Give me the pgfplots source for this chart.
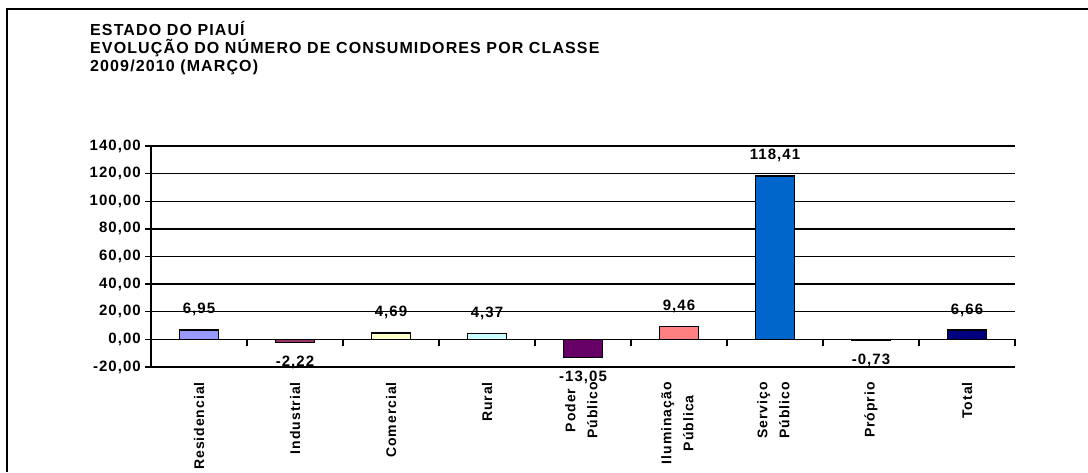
\documentclass[border=0pt]{standalone}
\usepackage{pgfplots}
\pgfplotsset{compat=1.18}
\usepackage{fontspec}
\setmainfont{Liberation Sans}[LetterSpace=7]
\definecolor{cRes}{HTML}{9999FF}
\definecolor{cInd}{HTML}{993366}
\definecolor{cCom}{HTML}{FFFFCC}
\definecolor{cRur}{HTML}{CCFFFF}
\definecolor{cPod}{HTML}{660066}
\definecolor{cIlu}{HTML}{FF8080}
\definecolor{cSer}{HTML}{0066CC}
\definecolor{cPro}{HTML}{CCCCFF}
\definecolor{cTot}{HTML}{000080}
\newcommand{\two}[2]{\begin{tabular}{@{}c@{}}#1\\[5pt]#2\end{tabular}}
\pgfplotsset{
  posl/.style={nodes near coords, every node near coord/.append style={anchor=south, yshift=13pt}},
  negl/.style={nodes near coords, every node near coord/.append style={anchor=north, yshift=-12.5pt}},
}
\begin{document}
\begin{tikzpicture}[x=1pt,y=1pt]
\useasboundingbox (0,0) rectangle (1088,472);
\fill[white] (0,0) rectangle (1088,472);
\draw[line width=2pt] (7,0) -- (7,463) -- (1088,463);
\node[anchor=north west, align=left, inner sep=0pt, font=\bfseries\fontsize{16}{18}\selectfont] at (90,450.5)
  {ESTADO DO PIAUÍ\\EVOLUÇÃO DO NÚMERO DE CONSUMIDORES POR CLASSE\\2009/2010 (MARÇO)};
\begin{axis}[
  at={(151pt,105pt)}, anchor=south west,
  width=864pt, height=221pt, scale only axis,
  xmin=-0.5, xmax=8.5, ymin=-20, ymax=140,
  ytick={-20,0,20,40,60,80,100,120,140},
  axis y line*=left, axis x line*=bottom,
  x axis line style={draw=none},
  y axis line style={line width=1.5pt},
  ymajorgrids, grid style={black, line width=1.3pt},
  ytick style={black, line width=1.3pt},
  tick align=outside, major tick length=6pt,
  xtick style={draw=none},
  xtick={0,...,8},
  xticklabels={Residencial, Industrial, Comercial, Rural, {\two{Poder}{Público}}, {\two{Iluminação}{Pública}}, {\two{Serviço}{Público}}, Próprio, Total},
  xticklabel style={rotate=90, anchor=east, inner sep=0pt, font=\bfseries\fontsize{14}{17}\selectfont},
  xticklabel shift=9pt,
  yticklabel style={font=\bfseries\fontsize{15}{16}\selectfont, inner sep=0pt, xshift=-4pt},
  /pgf/number format/.cd, fixed, fixed zerofill, precision=2, use comma, assume math mode=true, 1000 sep={},
  /pgfplots/.cd,
  ybar, bar width=39pt, bar shift=0pt,
  every axis plot/.append style={draw=black, line width=1.5pt},
  every node near coord/.append style={inner sep=0pt, font=\bfseries\fontsize{15}{16}\selectfont, black},
  clip=false,
]
\addplot[fill=cRes, posl] coordinates {(0,6.95)};
\addplot[fill=cInd, negl] coordinates {(1,-2.22)};
\addplot[fill=cCom, posl] coordinates {(2,4.69)};
\addplot[fill=cRur, posl] coordinates {(3,4.37)};
\addplot[fill=cPod, negl] coordinates {(4,-13.05)};
\addplot[fill=cIlu, posl] coordinates {(5,9.46)};
\addplot[fill=cSer, posl] coordinates {(6,118.41)};
\addplot[fill=cPro, negl] coordinates {(7,-0.73)};
\addplot[fill=cTot, posl] coordinates {(8,6.66)};
\pgfplotsinvokeforeach{0.5,1.5,2.5,3.5,4.5,5.5,6.5,7.5,8.5}{
  \draw[line width=1.3pt] (axis cs:#1,0) -- ([yshift=-7pt]axis cs:#1,0);
}
\end{axis}
\end{tikzpicture}
\end{document}
